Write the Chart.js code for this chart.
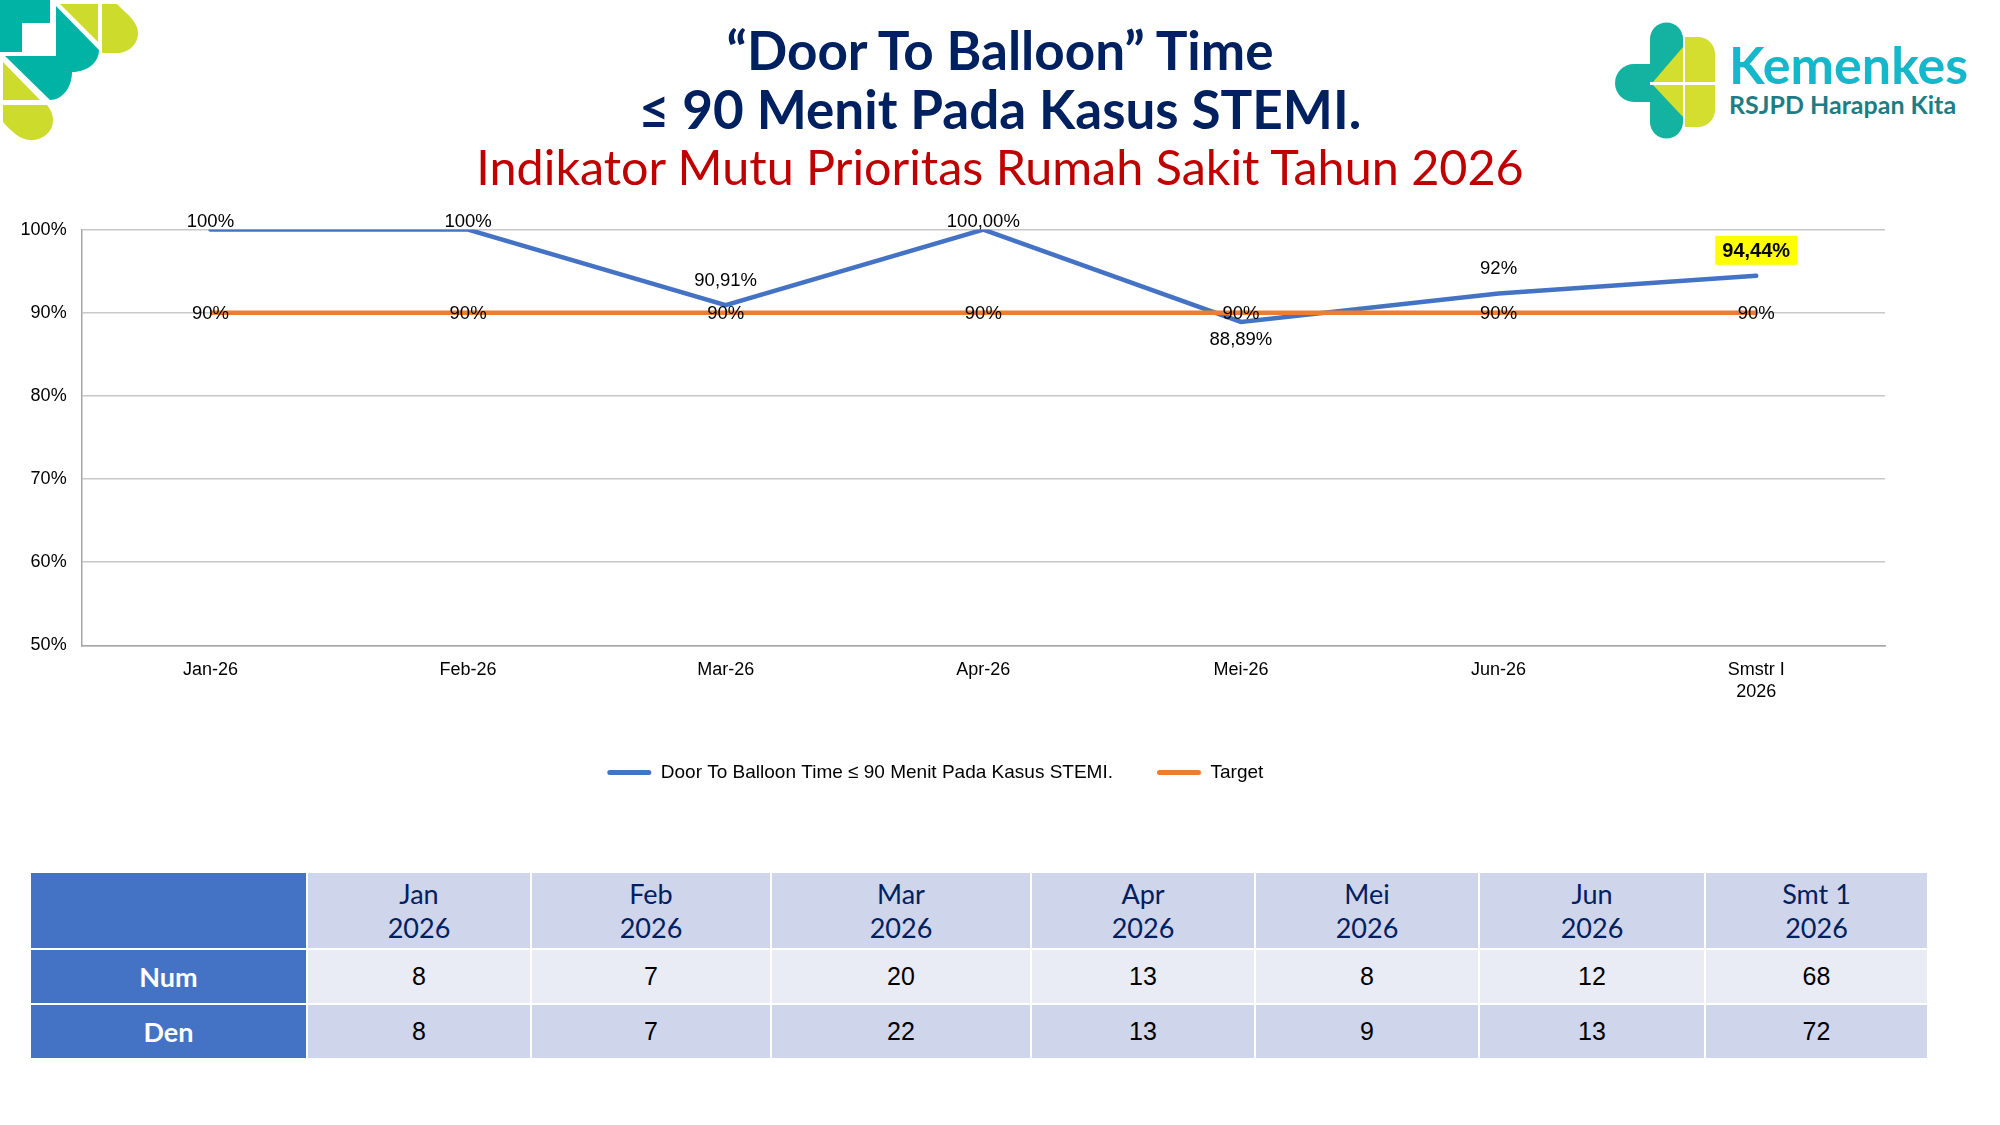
<!DOCTYPE html>
<html lang="id">
<head>
<meta charset="UTF-8">
<title>Door To Balloon Time</title>
<script src="https://cdn.jsdelivr.net/npm/chart.js"></script>
<style>
  body { margin: 0; width: 2000px; height: 1125px; background: #fff; position: relative; overflow: hidden; font-family: Lato, "Open Sans", sans-serif; }
  .title { position: absolute; left: 0; width: 2000px; text-align: center; white-space: nowrap; line-height: 58px; }
  #t1 { top: 21px; font-size: 53px; font-weight: 700; color: #002060; }
  #t2 { top: 80px; font-size: 53px; font-weight: 700; color: #002060; }
  #t3 { top: 137px; font-size: 48.5px; font-weight: 400; color: #C00000; }
  #deco { position: absolute; left: 0; top: 0; }
  #logo { position: absolute; left: 0; top: 0; }
  #chartBox { position: absolute; left: 0; top: 190px; width: 2000px; height: 640px; }
  #dataTable { position: absolute; left: 29px; top: 871px; border-collapse: collapse; table-layout: fixed; }
  #dataTable td { border: 2px solid #fff; text-align: center; padding: 0; }
  #dataTable tr.head td { height: 75px; background: #CFD5EA; color: #002060; font-size: 27px; line-height: 34px; }
  #dataTable tr.num td { height: 53px; background: #E9EBF5; }
  #dataTable tr.den td { height: 53px; background: #CFD5EA; }
  #dataTable tr.num td, #dataTable tr.den td { font-family: "Liberation Sans", Arial, sans-serif; font-size: 25px; color: #000; }
  #dataTable td.rowHead { background: #4472C4 !important; color: #fff !important; font-family: Lato, sans-serif !important; font-size: 27px !important; font-weight: 700; }
</style>
</head>
<body>

<svg id="deco" width="150" height="150">
  <path d="M0,0 H50 V23 H22 V52 H0 Z" fill="#00B3A4"/>
  <path d="M56,6 L99,50 C99,62 88,72 72,72 C72,88 62,100 50,100 L5,56 L56,56 Z" fill="#00B3A4"/>
  <path d="M60,4 H98 V42 Z" fill="#CDDB2C"/>
  <path d="M102,4 H117 C128,15 138,22 138,33 C138,45 128,53 117,53 H102 Z" fill="#CDDB2C"/>
  <path d="M3,62 V100 H40 Z" fill="#CDDB2C"/>
  <path d="M3,105 H47 C51,110 53,115 53,120 C53,132 43,140 31,140 C20,140 12,132 3,122 Z" fill="#CDDB2C"/>
</svg>

<svg id="logo" width="2000" height="150">
  <path d="M1650,82 V39 A16.5,16.5 0 0 1 1683,39 V82 Z" fill="#14B2A0"/>
  <path d="M1650,64 H1634 A19,19 0 0 0 1634,102 H1650 Z" fill="#14B2A0"/>
  <path d="M1650,85 H1683 V122 A16.5,16.5 0 0 1 1650,122 Z" fill="#14B2A0"/>
  <path d="M1653,82 L1683,47 V82 Z" fill="#D4DE2E"/>
  <path d="M1685,82 V37 H1698 A17,17 0 0 1 1715,54 V82 Z" fill="#D4DE2E"/>
  <path d="M1685,85 H1715 V110 A17,17 0 0 1 1698,127 H1685 Z" fill="#D4DE2E"/>
  <path d="M1653,85 H1683 V117 Z" fill="#D4DE2E"/>
  <text x="1729" y="84" font-family="Lato" font-weight="700" font-size="52" fill="#15B7CA">Kemenkes</text>
  <text x="1729" y="114" font-family="Lato" font-weight="700" font-size="25" fill="#1E7C84">RSJPD Harapan Kita</text>
</svg>

<div class="title" id="t1">&ldquo;Door To Balloon&rdquo; Time</div>
<div class="title" id="t2">&le; 90 Menit Pada Kasus STEMI.</div>
<div class="title" id="t3">Indikator Mutu Prioritas Rumah Sakit Tahun 2026</div>

<div id="chartBox"><canvas id="lineChart"></canvas></div>

<table id="dataTable">
  <colgroup>
    <col style="width:277px"><col style="width:224px"><col style="width:240px"><col style="width:260px">
    <col style="width:224px"><col style="width:224px"><col style="width:226px"><col style="width:223px">
  </colgroup>
  <tbody id="tableBody"></tbody>
</table>

<script>
  // chart data
  const categories = ['Jan-26', 'Feb-26', 'Mar-26', 'Apr-26', 'Mei-26', 'Jun-26', ['Smstr I', '2026']];
  const capaian = [100, 100, 90.91, 100, 88.89, 92.31, 94.44];
  const capaianLabels = ['100%', '100%', '90,91%', '100,00%', '88,89%', '92%', '94,44%'];
  const target = [90, 90, 90, 90, 90, 90, 90];
  const targetLabels = ['90%', '90%', '90%', '90%', '90%', '90%', '90%'];
  const yMin = 50, yMax = 100, yStep = 10;

  // table data
  const tableHeads = [['Jan', '2026'], ['Feb', '2026'], ['Mar', '2026'], ['Apr', '2026'], ['Mei', '2026'], ['Jun', '2026'], ['Smt 1', '2026']];
  const numValues = [8, 7, 20, 13, 8, 12, 68];
  const denValues = [8, 7, 22, 13, 9, 13, 72];

  // build table
  const body = document.getElementById('tableBody');
  function addRow(cls, first, cells) {
    const tr = document.createElement('tr');
    tr.className = cls;
    const th = document.createElement('td');
    th.className = 'rowHead';
    th.textContent = first;
    tr.appendChild(th);
    cells.forEach(c => {
      const td = document.createElement('td');
      td.innerHTML = c;
      tr.appendChild(td);
    });
    body.appendChild(tr);
  }
  addRow('head', '', tableHeads.map(h => h.join('<br>')));
  addRow('num', 'Num', numValues);
  addRow('den', 'Den', denValues);

  const axisFont = { family: '"Liberation Sans", Arial, sans-serif', size: 18 };

  // draws the value labels next to each point
  const pointLabels = {
    id: 'pointLabels',
    afterDatasetsDraw(chart) {
      const ctx = chart.ctx;
      const area = chart.chartArea;
      ctx.save();
      ctx.textAlign = 'center';
      ctx.textBaseline = 'middle';
      chart.data.datasets.forEach((ds, i) => {
        const meta = chart.getDatasetMeta(i);
        meta.data.forEach((pt, j) => {
          const text = ds.valueLabels[j];
          let y;
          if (ds.labelPlace === 'center') {
            y = pt.y;
          } else if (ds.data[j] < target[j]) {
            y = pt.y + 16.5;
          } else {
            y = Math.max(pt.y - 25.5, area.top - 9);
          }
          const last = ds.highlightLast && j === meta.data.length - 1;
          if (last) {
            ctx.font = 'bold 20px "Liberation Sans", Arial, sans-serif';
            const w = ctx.measureText(text).width + 14;
            ctx.fillStyle = '#FFFF00';
            ctx.fillRect(pt.x - w / 2, y - 14.5, w, 29);
          } else {
            ctx.font = '18.5px "Liberation Sans", Arial, sans-serif';
          }
          ctx.fillStyle = '#000';
          ctx.fillText(text, pt.x, y + 1);
        });
      });
      ctx.restore();
    }
  };

  new Chart(document.getElementById('lineChart'), {
    type: 'line',
    data: {
      labels: categories,
      datasets: [
        {
          label: 'Door To Balloon Time \u2264 90 Menit Pada Kasus STEMI.',
          data: capaian,
          valueLabels: capaianLabels,
          highlightLast: true,
          borderColor: '#4472C4',
          backgroundColor: '#4472C4',
          borderWidth: 4.5,
          pointRadius: 0,
          borderCapStyle: 'round',
          order: 1
        },
        {
          label: 'Target',
          data: target,
          valueLabels: targetLabels,
          labelPlace: 'center',
          borderColor: '#ED7D31',
          backgroundColor: '#ED7D31',
          borderWidth: 4.5,
          pointRadius: 0,
          order: 0
        }
      ]
    },
    options: {
      responsive: true,
      maintainAspectRatio: false,
      animation: false,
      devicePixelRatio: 1,
      // negative left padding only shifts the legend centre; the y axis is widened to compensate
      layout: { padding: { top: 39.6, right: 115, bottom: 38, left: -14.4 } },
      plugins: {
        tooltip: { enabled: false },
        legend: {
          position: 'bottom',
          labels: {
            font: { family: '"Liberation Sans", Arial, sans-serif', size: 19 },
            color: '#000',
            boxWidth: 44,
            boxHeight: 5,
            padding: 44,
            useBorderRadius: true,
            borderRadius: 2.5,
            sort: (a, b) => a.datasetIndex - b.datasetIndex,
            generateLabels: chart => Chart.defaults.plugins.legend.labels.generateLabels(chart)
              .map(l => Object.assign(l, { lineWidth: 0 }))
          }
        }
      },
      scales: {
        x: {
          offset: true,
          grid: { display: false, drawTicks: false },
          border: { color: '#A6A6A6', width: 1.5 },
          ticks: { font: axisFont, color: '#000', padding: 14, maxRotation: 0, autoSkip: false },
          afterFit: scale => { scale.height = 73.6; }
        },
        y: {
          min: yMin,
          max: yMax,
          grid: { color: '#C8C8C8', lineWidth: 1.5, drawTicks: false },
          border: { color: '#A6A6A6', width: 1.5 },
          ticks: { stepSize: yStep, font: axisFont, color: '#000', padding: 15, callback: v => v + '%' },
          afterFit: scale => { scale.width += 20; }
        }
      }
    },
    plugins: [pointLabels]
  });
</script>
</body>
</html>
